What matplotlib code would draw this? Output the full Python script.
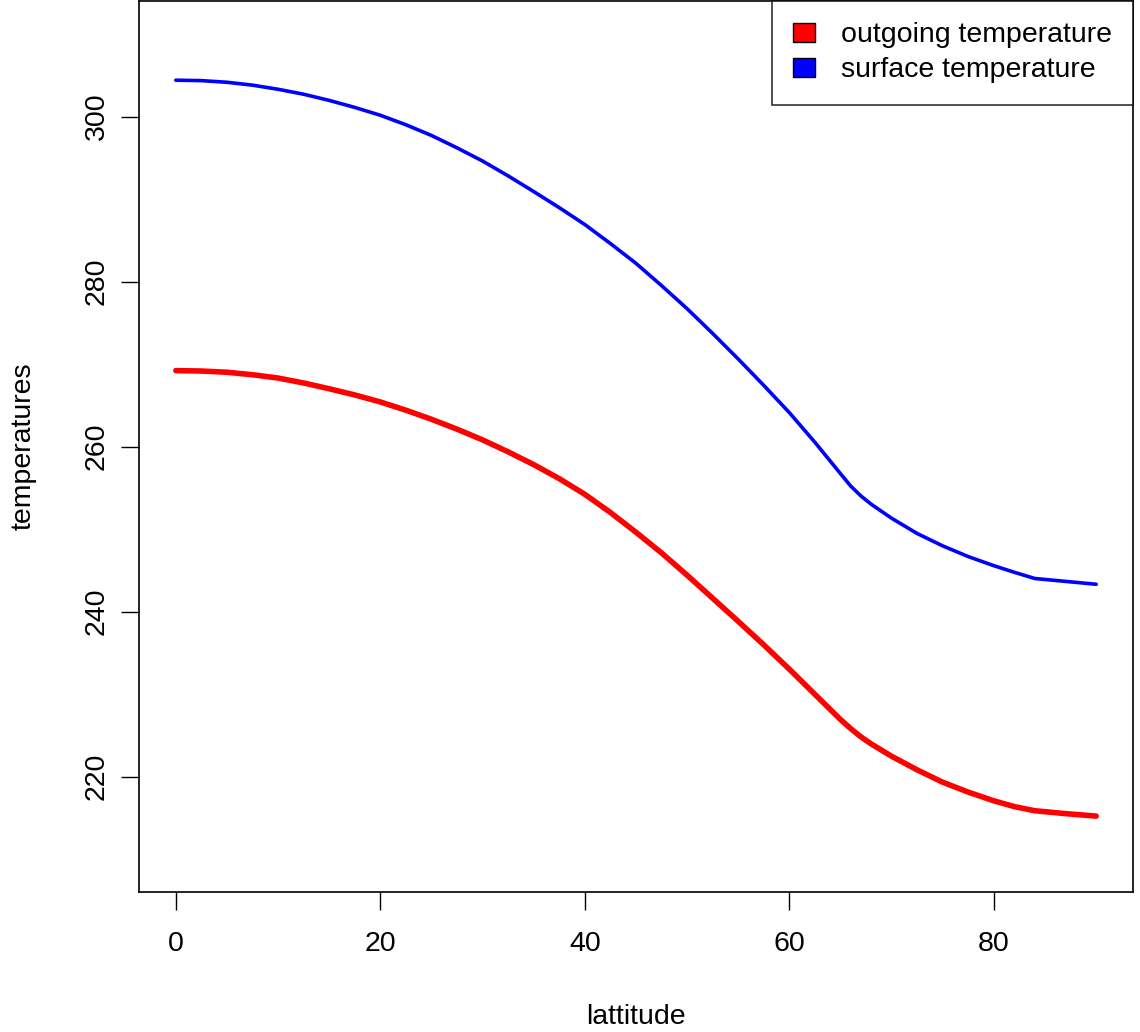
import matplotlib
matplotlib.use("Agg")
import matplotlib.pyplot as plt
from matplotlib.patches import Patch

plt.rcParams['font.family'] = ['Liberation Sans', 'DejaVu Sans']

lat = [0, 2.5, 5, 7.5, 10, 12.5, 15, 17.5, 20, 22.5, 25, 27.5, 30, 32.5, 35, 37.5,
       40, 42.5, 45, 47.5, 50, 52.5, 55, 57.5, 60, 62.5, 65, 66, 67, 68, 70, 72.5,
       75, 77.5, 80, 82, 84, 87, 90]
surface_T = [304.4, 304.35, 304.15, 303.8, 303.3, 302.7, 301.95, 301.1, 300.15, 299.0,
             297.7, 296.2, 294.6, 292.8, 290.9, 288.95, 286.9, 284.6, 282.2, 279.5,
             276.7, 273.7, 270.6, 267.4, 264.1, 260.5, 256.7, 255.2, 254.0, 253.0,
             251.3, 249.45, 247.95, 246.65, 245.55, 244.75, 244.0, 243.65, 243.3]
outgoing_T = [269.2, 269.15, 269.0, 268.7, 268.3, 267.7, 267.0, 266.25, 265.4, 264.4,
              263.3, 262.1, 260.8, 259.35, 257.8, 256.1, 254.2, 252.0, 249.6, 247.1,
              244.4, 241.6, 238.8, 235.95, 233.0, 229.95, 226.9, 225.8, 224.8, 223.95,
              222.45, 220.8, 219.3, 218.1, 217.05, 216.35, 215.85, 215.5, 215.2]
x_ticks = [0, 20, 40, 60, 80]
y_ticks = [220, 240, 260, 280, 300]
legend_labels = ["outgoing temperature", "surface temperature"]

W, H, DPI = 1140, 1032, 100
FS = 20.5
fig = plt.figure(figsize=(W / DPI, H / DPI), dpi=DPI)
ax = fig.add_axes([139 / W, 1 - 892 / H, (1133 - 139) / W, 891 / H])

ax.plot(lat, surface_T, color='blue', lw=2.6, solid_capstyle='round', solid_joinstyle='round')
ax.plot(lat, outgoing_T, color='red', lw=4.0, solid_capstyle='round', solid_joinstyle='round')

ax.set_xlim(-3.6, 93.6)
ax.set_ylim(206, 314)
ax.set_xticks(x_ticks)
ax.set_yticks(y_ticks)
ax.set_xticklabels([str(v) for v in x_ticks], fontsize=FS)
ax.set_yticklabels([str(v) for v in y_ticks], fontsize=FS, rotation=90, va='center')
ax.tick_params(axis='both', direction='out', length=13, width=1.0, color='black')
ax.tick_params(axis='x', pad=15)
ax.tick_params(axis='y', pad=8)
for s in ax.spines.values():
    s.set_linewidth(1.2)
    s.set_color('black')

ax.set_xlabel('lattitude', fontsize=FS, labelpad=34)
ax.set_ylabel('temperatures', fontsize=FS, labelpad=34)

handles = [Patch(facecolor='red', edgecolor='black', lw=1.0),
           Patch(facecolor='blue', edgecolor='black', lw=1.0)]
leg = ax.legend(handles, legend_labels, loc='upper right', bbox_to_anchor=(1, 1),
                borderaxespad=0, fontsize=FS, frameon=True, fancybox=False,
                handlelength=0.77, handleheight=0.63, handletextpad=0.9,
                borderpad=0.75, labelspacing=0.32)
leg.get_frame().set_edgecolor('black')
leg.get_frame().set_linewidth(1.2)

fig.savefig('out.png', dpi=DPI)
